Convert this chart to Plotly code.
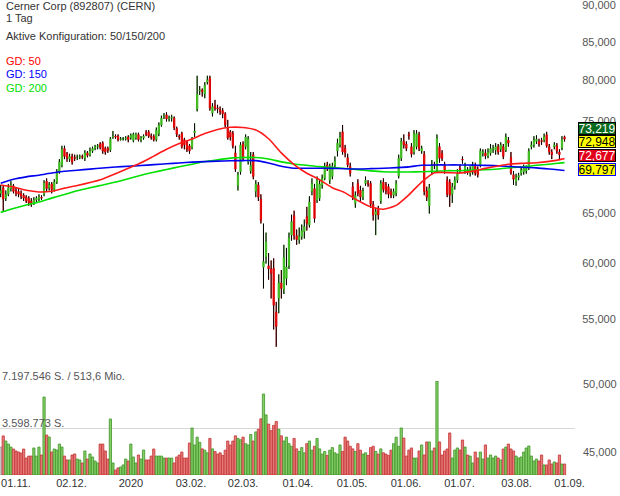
import pandas as pd
import plotly.graph_objects as go

# ---------------- data ----------------
open_ = [67.0,67.6,66.5,66.9,67.5,67.8,67.3,67.2,67.0,66.8,66.6,66.5,66.2,65.9,66.3,66.4,66.6,66.9,68.3,67.6,
         68.0,67.4,68.2,69.3,70.0,71.9,71.3,70.7,71.0,70.9,70.9,70.9,71.0,70.8,71.4,71.2,71.6,71.9,72.1,72.4,
         72.5,71.9,71.9,71.7,73.2,73.3,73.3,72.9,73.0,73.0,73.2,73.1,72.8,73.1,73.5,72.9,73.1,
         73.7,73.8,73.3,73.25,72.9,73.6,74.6,75.6,75.8,75.3,75.4,75.4,74.2,73.3,73.6,72.9,72.6,72.2,72.0,73.7,
         76.5,78.7,78.8,78.3,79.8,80.3,76.0,76.9,76.6,76.4,76.3,75.9,74.2,73.8,73.6,71.4,67.8,69.3,72.4,72.1,
         70.4,69.4,71.2,67.2,67.9,66.4,59.65,60.65,59.8,59.5,59.55,55.6,56.8,58.2,57.6,58.6,59.8,
         62.75,64.7,62.7,62.3,62.6,63.1,64.6,63.75,67.2,67.5,66.3,66.5,67.9,68.6,70.05,68.4,68.8,70.0,71.6,72.3,
         73.8,71.9,70.85,69.9,67.7,65.95,68.05,67.35,66.6,68.05,68.1,68.05,65.85,64.8,65.35,66.2,68.2,67.9,67.7,67.2,
         66.8,67.0,68.85,70.8,72.7,72.4,73.5,72.1,71.5,72.1,73.4,71.6,71.25,67.25,65.7,69.3,70.1,
         69.5,72.1,71.35,70.05,68.4,68.2,66.9,67.8,68.4,69.7,70.7,69.5,69.5,69.15,69.3,69.9,69.6,70.05,71.35,71.4,
         71.05,71.35,71.8,71.7,72.1,71.8,72.1,71.7,72.85,70.9,69.0,68.25,68.7,69.15,69.3,69.4,69.7,72.1,72.3,72.7,
         72.7,72.8,72.85,73.45,72.1,71.5,72.1,72.2,71.5,71.95,73.22]
high = [67.9,67.8,67.3,68.0,68.3,68.0,67.6,67.5,67.3,67.0,66.8,66.7,66.5,66.6,66.7,66.9,66.8,68.4,68.6,68.2,
        68.2,68.5,69.6,70.7,72.2,72.2,71.5,71.3,71.3,71.2,71.2,71.2,71.2,71.7,71.6,72.0,72.1,72.3,72.4,72.6,
        72.7,72.1,72.1,73.2,73.9,73.5,73.5,73.2,73.2,73.3,73.4,73.6,73.7,73.7,73.7,73.3,73.5,
        74.0,74.0,73.6,73.5,74.3,74.9,75.7,76.0,76.1,75.7,75.8,75.6,74.4,73.5,73.8,73.1,72.8,72.4,73.2,74.8,
        80.6,79.3,79.0,79.8,80.6,80.6,77.2,77.6,77.0,76.8,76.6,76.1,75.2,74.0,73.9,72.2,69.3,72.6,72.7,73.5,
        73.3,71.5,71.5,68.4,68.2,66.9,63.9,63.0,61.0,60.3,60.5,56.5,59.0,59.4,61.8,61.5,63.0,
        64.8,65.2,63.3,63.5,63.8,64.3,65.6,66.7,68.6,68.0,68.8,68.5,69.0,70.3,70.4,70.2,70.3,71.0,73.0,73.8,
        74.6,72.3,71.3,70.3,68.2,67.2,68.5,67.8,67.6,68.8,68.4,68.3,66.2,65.5,65.7,68.4,68.6,68.2,68.0,67.5,
        67.5,68.4,71.2,73.1,73.5,72.7,73.8,72.5,74.0,74.0,73.8,72.2,71.6,67.7,68.0,70.6,70.4,
        73.5,72.5,71.7,70.4,68.8,68.5,68.1,68.8,69.6,70.1,71.0,70.3,69.8,69.9,70.4,70.3,69.9,71.9,71.8,71.8,
        71.9,72.4,72.3,72.5,72.4,72.6,72.4,73.6,73.2,71.5,69.4,69.1,69.2,69.9,70.1,70.0,71.9,72.7,73.3,73.4,
        73.0,73.1,73.6,73.8,72.4,71.8,72.6,72.5,71.8,73.3,73.35]
low = [66.6,65.1,66.2,66.7,67.2,67.0,66.7,66.6,66.4,66.2,66.0,65.7,65.6,65.8,66.1,66.2,66.3,66.7,67.2,67.3,
       67.0,67.2,68.0,69.1,69.8,70.7,70.4,70.4,70.1,70.5,70.6,70.7,70.7,70.5,70.9,71.0,71.4,71.7,71.8,71.8,
       71.3,71.2,71.4,71.5,73.0,73.0,72.7,72.8,72.8,72.8,72.6,72.9,72.6,72.9,72.7,72.6,72.9,
       73.3,73.1,72.9,72.7,72.7,73.3,74.4,75.3,75.0,75.0,75.0,74.0,73.2,72.9,71.9,71.8,71.5,71.3,71.8,73.2,
       76.2,78.2,78.0,77.8,79.5,76.3,75.6,76.3,76.0,75.8,75.4,74.3,72.9,72.8,71.9,69.3,67.3,69.0,70.5,71.8,
       70.1,69.1,68.5,66.6,66.2,63.9,57.7,60.0,58.5,56.8,54.1,52.65,55.5,56.8,57.2,58.0,59.5,
       62.2,62.3,61.8,61.9,62.3,62.4,63.2,63.5,66.8,64.0,66.0,66.2,67.5,68.4,69.4,68.0,68.5,69.7,71.0,72.0,
       71.2,70.9,69.8,68.8,66.3,65.5,66.7,66.2,66.3,67.8,67.7,65.5,64.2,62.75,64.3,65.9,67.1,66.9,66.5,66.5,
       66.5,66.7,68.6,70.5,71.9,71.6,72.9,70.9,71.2,71.8,71.6,71.3,66.8,66.2,64.9,69.0,69.6,
       69.2,70.3,70.5,69.1,66.6,65.6,66.0,67.4,68.1,69.2,70.2,69.1,69.0,68.8,69.0,68.9,68.7,69.8,71.0,70.7,
       70.8,71.1,71.4,71.2,71.2,71.5,70.7,71.5,72.1,69.0,67.9,67.8,68.4,68.9,69.0,69.1,69.5,71.8,72.0,72.4,
       72.1,72.3,72.6,72.0,71.2,70.7,71.8,71.3,70.6,71.7,72.68]
close_ = [67.3,66.4,66.9,67.6,67.9,67.2,67.0,66.9,66.7,66.5,66.2,66.0,65.9,66.3,66.5,66.6,66.5,68.1,67.5,67.9,
          67.4,68.2,69.2,70.4,71.8,71.0,70.8,71.0,70.4,70.8,70.9,71.0,70.9,71.4,71.1,71.6,71.9,72.1,72.2,72.0,
          71.6,71.5,71.7,73.0,73.3,73.2,72.9,73.0,73.0,73.1,72.9,73.4,73.5,73.5,72.9,73.1,73.3,
          73.5,73.3,73.2,72.9,74.0,74.6,75.4,75.7,75.3,75.4,75.5,74.3,73.5,73.2,72.1,72.3,71.8,71.6,73.0,73.9,
          78.3,78.8,78.6,79.4,80.1,76.6,76.8,76.6,76.5,76.2,75.9,74.6,73.1,73.2,72.2,69.6,69.0,72.3,70.8,73.2,
          73.0,70.0,68.8,68.0,66.6,64.2,60.2,62.1,59.5,59.1,56.2,54.35,58.2,57.7,60.6,59.7,62.5,
          64.1,62.7,62.3,62.6,63.2,63.6,63.9,66.1,68.05,64.4,68.4,68.0,68.6,69.9,69.76,69.9,69.9,70.5,72.5,73.2,
          71.5,71.4,70.05,69.15,66.7,66.8,67.0,66.6,67.25,68.4,68.0,65.85,64.75,65.1,64.75,68.05,67.4,67.25,66.9,66.8,
          67.2,68.05,70.8,72.7,72.3,71.9,73.35,71.25,73.6,73.6,71.9,71.9,67.2,66.6,67.6,70.05,70.0,
          73.05,70.8,70.8,69.5,66.9,66.8,67.7,68.4,69.1,69.55,70.6,69.9,69.35,69.5,70.05,69.15,69.0,71.6,71.5,71.05,
          71.5,71.9,71.9,72.1,71.5,72.3,71.0,73.2,72.5,69.2,68.5,68.7,68.9,69.5,69.7,69.7,71.6,72.3,72.85,72.95,
          72.4,72.7,73.25,72.2,71.5,71.2,72.3,71.6,71.2,72.9,72.95]
# volume in millions of shares
volume_mio = [2.14,2.99,2.60,2.37,2.14,1.99,1.84,1.76,1.68,1.99,1.30,1.45,1.45,2.07,1.45,2.14,1.53,5.97,3.06,2.91,
              1.76,1.99,1.91,2.37,2.14,1.45,1.15,1.15,1.53,1.61,1.22,1.15,0.92,1.84,1.22,1.61,1.38,1.07,0.92,2.37,
              2.37,1.84,1.22,4.29,0.92,0.38,0.54,0.61,0.77,1.22,1.07,2.37,1.38,0.92,1.53,1.22,1.91,
              1.15,1.15,1.45,1.99,1.45,1.45,1.45,1.30,1.30,1.30,1.30,0.92,1.38,1.53,1.76,1.30,1.30,2.45,3.60,2.30,
              2.9,2.5,2.0,1.9,1.7,2.8,2.0,1.8,1.6,1.7,1.5,1.9,2.6,2.3,2.6,3.0,2.8,2.7,2.9,2.4,
              2.3,3.1,2.6,3.3,3.5,4.3,6.2,4.6,3.9,3.4,3.8,4.1,3.5,3.0,2.6,2.9,2.4,
              2.2,2.8,2.0,1.8,2.1,1.7,2.4,2.6,1.9,2.2,2.8,2.0,1.6,1.8,1.5,1.9,2.1,1.7,1.6,2.3,
              1.8,2.9,2.6,2.2,2.0,1.8,2.4,1.9,1.6,1.7,1.5,2.1,2.2,1.8,1.6,2.0,1.7,1.6,1.5,1.9,
              2.4,2.9,2.2,3.60,2.83,1.45,1.91,2.07,1.30,1.30,1.84,2.30,1.53,2.53,2.53,1.84,2.07,
              7.197546,2.53,1.53,1.84,1.99,3.22,1.30,1.91,2.07,1.91,2.68,2.14,1.53,1.45,0.92,1.76,1.30,1.76,1.22,2.30,
              1.30,1.53,1.30,1.45,1.30,1.15,1.99,2.14,2.37,1.99,1.84,1.45,1.30,1.38,1.76,2.07,2.22,1.45,1.07,1.22,
              1.07,1.53,0.77,0.77,1.15,0.84,1.00,0.92,1.53,0.84,0.84]
# moving averages, sampled every 5th trading day plus the last day
gd50 = [67.88,67.68,67.32,67.15,67.22,67.55,67.83,68.15,68.54,69.10,69.70,70.30,71.04,71.80,72.45,72.97,73.60,74.08,74.33,74.30,
        74.0,73.0,71.4,70.1,69.15,68.45,67.6,67.05,66.25,65.6,65.35,65.75,66.85,68.2,69.2,69.22,69.17,69.38,69.68,69.95,
        70.17,70.24,70.30,70.45,70.70,70.78]
gd150 = [68.07,68.50,68.76,68.94,69.17,69.36,69.48,69.60,69.72,69.83,69.92,70.00,70.09,70.19,70.28,70.37,70.43,70.48,70.52,70.54,
         70.53,70.28,69.92,69.70,69.70,69.70,69.68,69.64,69.62,69.65,69.69,69.76,69.85,70.02,70.06,70.06,70.06,70.04,70.01,69.97,
         69.88,69.80,69.74,69.62,69.48,69.45]
gd200 = [65.03,65.42,65.78,66.10,66.50,66.88,67.28,67.60,67.88,68.20,68.56,68.93,69.26,69.56,69.86,70.14,70.43,70.62,70.81,70.88,
         70.88,70.72,70.40,70.17,70.02,69.87,69.77,69.66,69.55,69.41,69.31,69.28,69.29,69.32,69.36,69.43,69.43,69.50,69.53,69.62,
         69.76,69.86,70.02,70.14,70.29,70.31]
price_ticks = [55, 60, 65, 75, 80, 85, 90]
price_tick_text = ["55,000", "60,000", "65,000", "75,000", "80,000", "85,000", "90,000"]
# positions of the month labels on the time axis, as seen in the reference
x_tick_at = ["2019-11-01", "2019-12-02 18:00", "2020-01-03 01:00", "2020-02-05 14:00", "2020-03-05 00:00",
             "2020-04-03 12:00", "2020-05-04 17:00", "2020-06-02 21:00", "2020-07-01 20:00", "2020-08-03 05:00",
             "2020-09-01"]
x_tick_text = ["01.11.", "02.12.", "2020", "03.02.", "02.03.", "01.04.", "01.05.", "01.06.", "01.07.", "03.08.", "01.09."]
vol_max = 7197546
tags = [("73,219", "#0a6a1e", "#ffffff", "#000000"),
        ("72,948", "#ffff00", "#000000", "#000000"),
        ("72,677", "#e2001a", "#ffffff", "#000000"),
        ("69,797", "#ffff00", "#000000", "#0000ff")]

# ---------------- figure ----------------
dates = pd.bdate_range("2019-10-24", periods=len(close_))
ma_dates = list(dates[::5]) + [dates[-1]]
volume = [v * 1e6 for v in volume_mio]

FONT = "Liberation Sans, Arial, sans-serif"
GREEN = "#3cb81c"
RED = "#e00000"

fig = go.Figure()

fig.add_trace(go.Candlestick(
    x=dates, open=open_, high=high, low=low, close=close_,
    increasing=dict(fillcolor=GREEN, line=dict(color=GREEN, width=1)),
    decreasing=dict(fillcolor=RED, line=dict(color=RED, width=1)),
    hoverinfo="skip", showlegend=False, yaxis="y"))

# black wicks outside the bodies
wx, wy = [], []
for d, o, h, l, c in zip(dates, open_, high, low, close_):
    wx += [d, d, None, d, d, None]
    wy += [l, min(o, c), None, max(o, c), h, None]
fig.add_trace(go.Scatter(x=wx, y=wy, mode="lines", line=dict(color="black", width=1),
                         hoverinfo="skip", showlegend=False, yaxis="y"))

for vals, col in [(gd200, "#00e000"), (gd150, "#0000ee"), (gd50, "#ff1a1a")]:
    fig.add_trace(go.Scatter(x=ma_dates, y=vals, mode="lines",
                             line=dict(color=col, width=1.6, shape="spline", smoothing=0.6),
                             hoverinfo="skip", showlegend=False, yaxis="y"))

vcol, vline = [], []
for i, (o, c) in enumerate(zip(open_, close_)):
    if i == 0:
        vcol.append("#c8c8c8"); vline.append("#9a9a9a")
    elif c >= o:
        vcol.append("#86cf67"); vline.append("#3f9428")
    else:
        vcol.append("#e77b7b"); vline.append("#c43232")
fig.add_trace(go.Bar(x=dates, y=volume, marker=dict(color=vcol, line=dict(color=vline, width=0.8)),
                     hoverinfo="skip", showlegend=False, yaxis="y2"))

H_PLOT = 475.0
W_PLOT = 575.0


def py(px):
    return 1 - px / H_PLOT


ann = []
for txt, ypx, col in [("Cerner Corp (892807) (CERN)", 6.5, "#333333"), ("1 Tag", 18.5, "#333333"),
                      ("Aktive Konfiguration: 50/150/200", 36, "#333333"),
                      ("GD: 50", 61, "#ff0000"), ("GD: 150", 74, "#0000ff"), ("GD: 200", 88, "#00dd00")]:
    ann.append(dict(text=txt, xref="paper", yref="paper", x=4 / W_PLOT, y=py(ypx), xanchor="left",
                    yanchor="middle", showarrow=False, font=dict(family=FONT, size=11, color=col)))
for txt, ypx in [("7.197.546 S. / 513,6 Mio.", 376), ("3.598.773 S.", 422.5)]:
    ann.append(dict(text=txt, xref="paper", yref="paper", x=0, y=py(ypx), xanchor="left",
                    yanchor="middle", showarrow=False, font=dict(family=FONT, size=11, color="#555555")))
for txt, ypx in [("50,000", 384), ("45,000", 452)]:
    ann.append(dict(text=txt, xref="paper", yref="paper", x=581 / W_PLOT, y=py(ypx), xanchor="left",
                    yanchor="middle", showarrow=False, font=dict(family=FONT, size=11, color="#555555")))
for (txt, bg, fg, bc), ypx in zip(tags, [128.5, 141, 155, 169.5]):
    ann.append(dict(text=txt, xref="paper", yref="paper", x=578 / W_PLOT, y=py(ypx), xanchor="left",
                    yanchor="middle", showarrow=False, bgcolor=bg, bordercolor=bc, borderwidth=1,
                    borderpad=0, width=36, height=11, font=dict(family=FONT, size=12, color=fg)))

fig.update_layout(
    width=620, height=496,
    margin=dict(l=0, r=45, t=0, b=21),
    paper_bgcolor="white", plot_bgcolor="white",
    font=dict(family=FONT, size=11, color="#333333"),
    showlegend=False, bargap=0.12,
    xaxis=dict(type="date", rangebreaks=[dict(bounds=["sat", "mon"])],
               range=["2019-10-23 17:30", "2020-09-03 02:30"],
               tickvals=x_tick_at, ticktext=x_tick_text, tickfont=dict(size=11, color="#333333"),
               showgrid=False, zeroline=False, showline=False, ticks="", anchor="y2",
               rangeslider=dict(visible=False)),
    yaxis=dict(domain=[1 - 350 / H_PLOT, 1], type="log", range=[1.71921, 1.95799], side="right",
               tickvals=price_ticks, ticktext=price_tick_text, tickfont=dict(size=11, color="#555555"),
               showgrid=False, zeroline=False, showline=False, ticks="outside", ticklen=4,
               tickcolor="rgba(0,0,0,0)", ticklabeloverflow="allow"),
    yaxis2=dict(domain=[0, 94 / H_PLOT], range=[0, vol_max], side="right",
                tickvals=[vol_max / 2, vol_max], showticklabels=False, showgrid=True,
                gridcolor="#d8d8d8", gridwidth=1, zeroline=False, showline=False),
    annotations=ann,
)

fig.write_html("out.html")
